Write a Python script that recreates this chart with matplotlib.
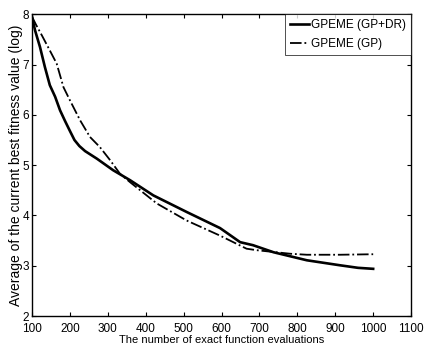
import numpy as np
import matplotlib
matplotlib.use("Agg")
import matplotlib.pyplot as plt

plt.rcParams['font.family'] = ['Liberation Sans', 'DejaVu Sans']

# GPEME (GP+DR)
x_dr = [100, 108, 121, 134, 147, 161, 174, 187, 200, 212, 225, 240, 271, 314, 359, 420,
        508, 596, 649, 683, 737, 825, 913, 960, 1000]
y_dr = [7.95, 7.68, 7.35, 6.95, 6.59, 6.36, 6.09, 5.88, 5.68, 5.5, 5.38, 5.28, 5.13, 4.9, 4.7, 4.4,
        4.07, 3.75, 3.47, 3.41, 3.27, 3.11, 3.01, 2.96, 2.94]

# GPEME (GP)
x_gp = [100, 110, 126, 147, 165, 183, 200, 227, 253, 279, 306, 332, 359, 429,
        508, 596, 666, 693, 781, 825, 913, 1000]
y_gp = [7.95, 7.8, 7.58, 7.28, 7.02, 6.55, 6.29, 5.89, 5.56, 5.36, 5.1, 4.83, 4.66, 4.24,
        3.9, 3.6, 3.34, 3.31, 3.24, 3.22, 3.22, 3.23]

xticks = list(range(100, 1101, 100))
yticks = list(range(2, 9))

fig = plt.figure(figsize=(4.24, 3.56), dpi=100)
ax = fig.add_axes([0.0755, 0.112, 0.894, 0.848])

ax.plot(x_dr, y_dr, color='black', lw=1.9, label='GPEME (GP+DR)')
ax.plot(x_gp, y_gp, color='black', lw=1.3, ls='-.', label='GPEME (GP)')

ax.set_xlim(100, 1100)
ax.set_ylim(2, 8)
ax.set_xticks(xticks)
ax.set_yticks(yticks)
ax.tick_params(direction='in', labelsize=8.5, length=3, top=True, right=True)
ax.tick_params(axis='x', pad=5)
ax.tick_params(axis='y', pad=2)
ax.set_xlabel('The number of exact function evaluations', fontsize=8, labelpad=0)
ax.set_ylabel('Average of the current best fitness value (log)', fontsize=10, labelpad=0)
for s in ax.spines.values():
    s.set_linewidth(1.0)

leg = ax.legend(loc='upper right', fontsize=8.5, frameon=True, fancybox=False,
                edgecolor='black', handlelength=1.6, handletextpad=0.2,
                borderaxespad=0.0, labelspacing=0.6)
leg.get_frame().set_linewidth(0.6)

fig.savefig('out.png', dpi=100)
